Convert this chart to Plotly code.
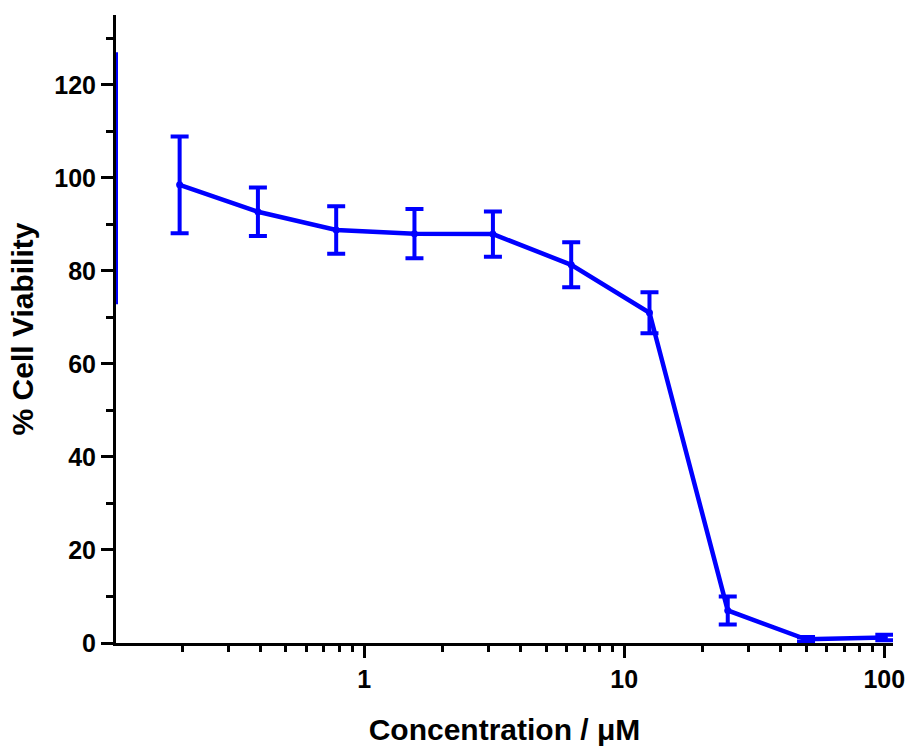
import math
import plotly.graph_objects as go

# Concentration series (µM, two-fold dilutions) and measured viability
conc = [0.195, 0.39, 0.78, 1.56, 3.125, 6.25, 12.5, 25, 50, 100]
viability = [98.5, 92.7, 88.8, 88.0, 87.9, 81.3, 71.0, 7.0, 0.8, 1.2]
viability_sd = [10.4, 5.2, 5.1, 5.3, 4.85, 4.85, 4.4, 3.0, 0.5, 0.6]

# Untreated reference point sitting on the left edge of the axis
edge_conc = [0.111]
edge_viability = [99.9]
edge_sd = [27.1]

x_tick_vals = [1, 10, 100]
x_tick_text = ["1", "10", "100"]
x_minor_vals = [m * 10 ** e for e in (-1, 0, 1) for m in range(2, 10)]
y_tick_vals = [0, 20, 40, 60, 80, 100, 120]
y_minor_vals = [10, 30, 50, 70, 90, 110, 130]

BLUE = "#0000FF"
FONT = "Liberation Sans, Arial, sans-serif"

fig = go.Figure()

fig.add_trace(go.Scatter(
    x=edge_conc, y=edge_viability, mode="markers",
    marker=dict(size=0.1, color=BLUE, opacity=0),
    error_y=dict(type="data", array=edge_sd, visible=True,
                 color=BLUE, thickness=4, width=0),
    showlegend=False, cliponaxis=True,
))

fig.add_trace(go.Scatter(
    x=conc, y=viability, mode="lines+markers",
    line=dict(color=BLUE, width=4.5),
    marker=dict(size=7, color=BLUE),
    error_y=dict(type="data", array=viability_sd, visible=True,
                 color=BLUE, thickness=4, width=9),
    showlegend=False,
))

fig.update_layout(
    width=912, height=749,
    margin=dict(l=116, r=19, t=15, b=106),
    paper_bgcolor="white", plot_bgcolor="white",
    font=dict(family=FONT, color="black"),
)

fig.update_xaxes(
    type="log",
    range=[math.log10(0.111), math.log10(108)],
    tickvals=x_tick_vals, ticktext=x_tick_text,
    ticks="outside", ticklen=12, tickwidth=3, tickcolor="black",
    minor=dict(tickvals=x_minor_vals, ticks="outside", ticklen=6,
               tickwidth=3, tickcolor="black", showgrid=False),
    showline=True, linewidth=3, linecolor="black",
    showgrid=False, zeroline=False, automargin=False,
    tickfont=dict(family=FONT, size=25, color="black", weight="bold"),
    title=dict(text="<b>Concentration / μM</b>",
               font=dict(family=FONT, size=30, color="black"), standoff=27),
)

fig.update_yaxes(
    range=[0, 135],
    tickvals=y_tick_vals,
    ticks="outside", ticklen=12, tickwidth=3, tickcolor="black",
    minor=dict(tickvals=y_minor_vals, ticks="outside", ticklen=7,
               tickwidth=3, tickcolor="black", showgrid=False),
    showline=True, linewidth=3, linecolor="black",
    showgrid=False, zeroline=False, automargin=False,
    tickfont=dict(family=FONT, size=25, color="black", weight="bold"),
    title=dict(text="<b>% Cell Viability</b>",
               font=dict(family=FONT, size=30, color="black"), standoff=12),
)

fig.write_html("out.html")
